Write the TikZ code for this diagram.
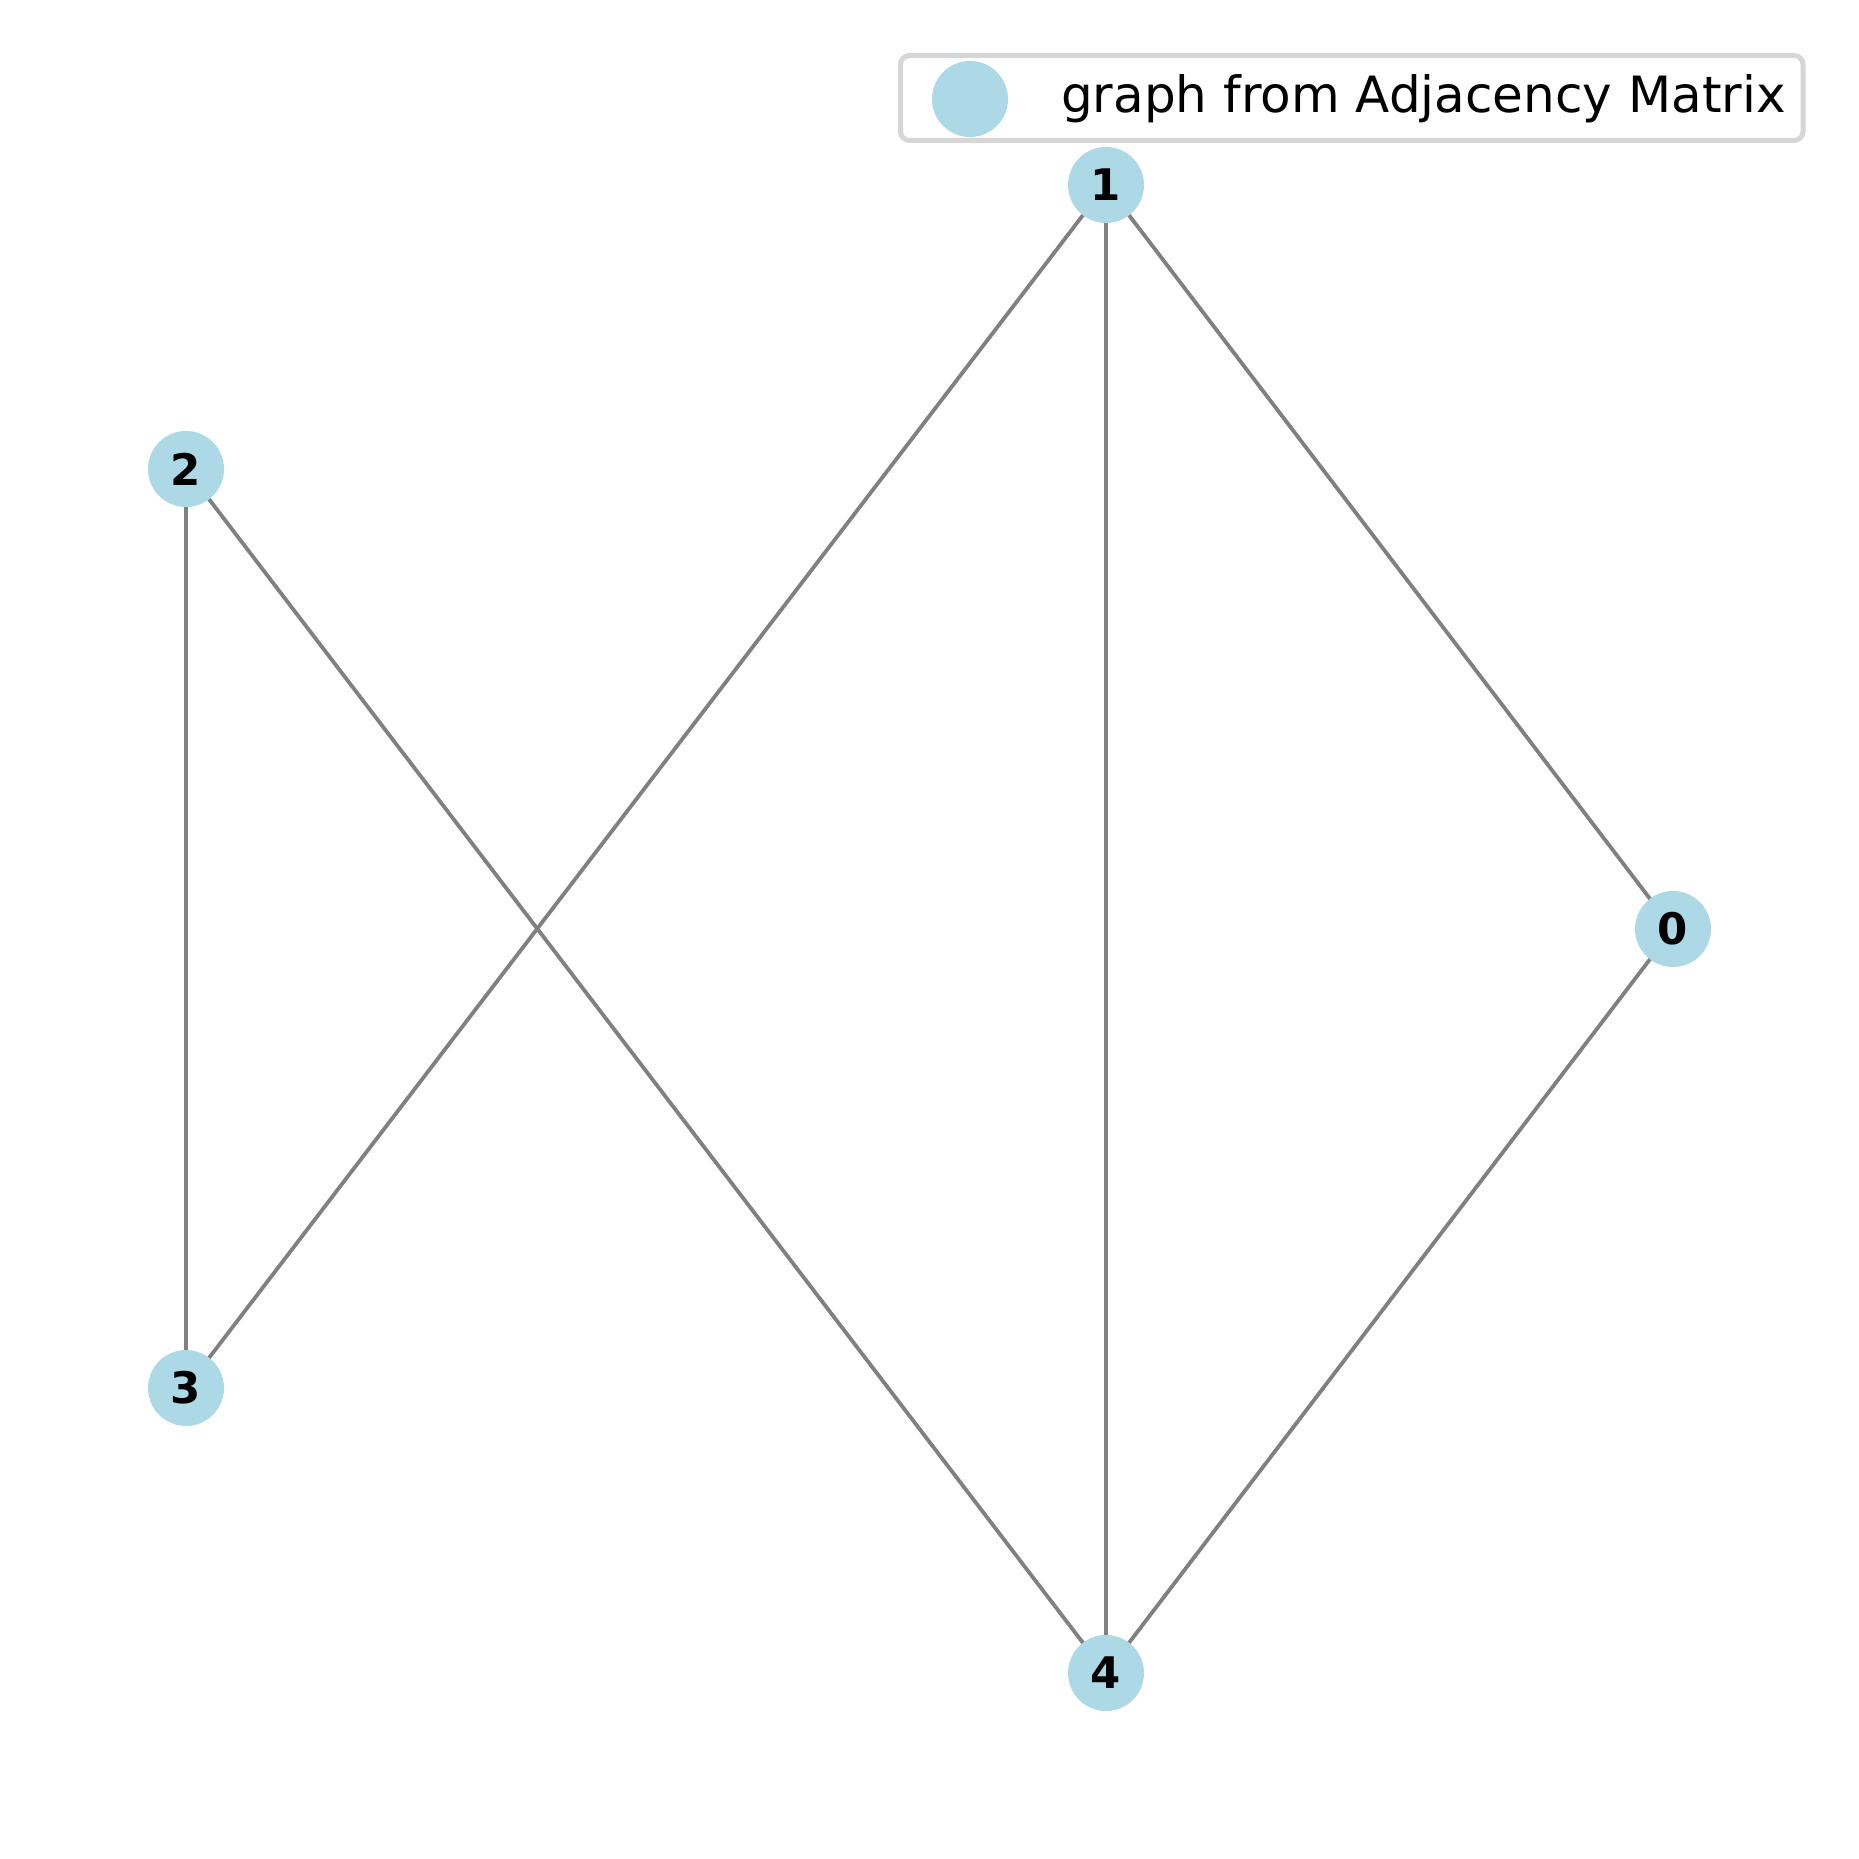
\documentclass[tikz,border=0pt]{standalone}
\usepackage{fontspec}
\setmainfont{DejaVu Sans}
\usetikzlibrary{backgrounds}
\definecolor{nodeblue}{HTML}{ADD8E6}
\definecolor{framegray}{gray}{0.84}
\begin{document}
\begin{tikzpicture}[x=1pt,y=-1pt,
  vtx/.style={circle,fill=nodeblue,minimum size=76pt,inner sep=0pt,font=\fontsize{43.5}{50}\selectfont\bfseries},
  edge/.style={draw=gray,line width=3.8pt},
  legframe/.style={draw=framegray,line width=5pt,rounded corners=9pt,fill=white}]
\useasboundingbox (0,0) rectangle (1859,1859);
\node[vtx] (n0) at (1673,929) {0};
\node[vtx] (n1) at (1106,185) {1};
\node[vtx] (n2) at (186,469) {2};
\node[vtx] (n3) at (186,1388) {3};
\node[vtx] (n4) at (1106,1673) {4};
\begin{pgfonlayer}{background}
\draw[edge] (n1.center) -- (n0.center);
\draw[edge] (n1.center) -- (n4.center);
\draw[edge] (n1.center) -- (n3.center);
\draw[edge] (n2.center) -- (n3.center);
\draw[edge] (n2.center) -- (n4.center);
\draw[edge] (n0.center) -- (n4.center);
\end{pgfonlayer}
\draw[legframe] (900.5,55.5) rectangle (1803,140.5);
\node[circle,fill=nodeblue,minimum size=76pt,inner sep=0pt] (lm) at (970,99) {};
\node[anchor=west,inner sep=0pt,font=\fontsize{50}{56}\selectfont] (lt) at (1061,99) {graph from Adjacency Matrix};
\end{tikzpicture}
\end{document}
